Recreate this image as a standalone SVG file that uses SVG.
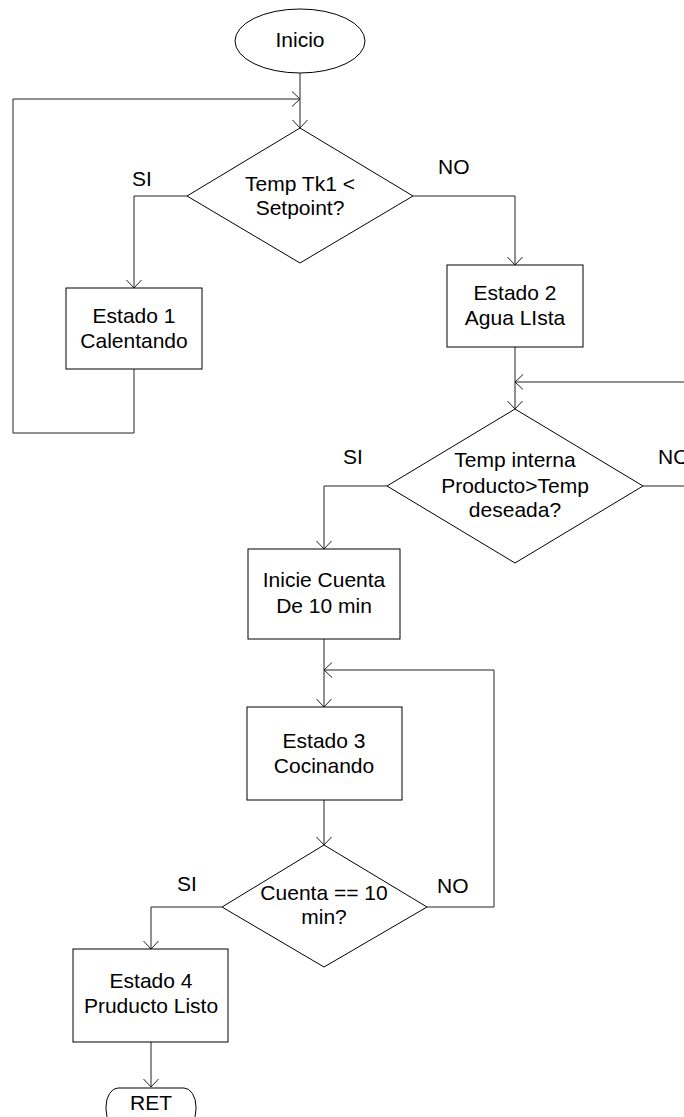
<svg xmlns="http://www.w3.org/2000/svg" width="684" height="1117" viewBox="0 0 684 1117">
<style>
.shape{fill:#fff;stroke:#000;stroke-width:1}
.conn{fill:none;stroke:#222;stroke-width:1}
text{font-family:"Liberation Sans",Arial,sans-serif;font-size:21px;fill:#000}
.c{text-anchor:middle}
</style>
<defs>
<marker id="arr" markerUnits="userSpaceOnUse" viewBox="0 0 9 16" refX="8.5" refY="8" markerWidth="9" markerHeight="16" orient="auto">
<path d="M0.5,0.5 L8.5,8 L0.5,15.5" fill="none" stroke="#222" stroke-width="1"/>
</marker>
</defs>
<g id="connectors">
<path class="conn" d="M300,73 V128" marker-end="url(#arr)"/>
<path class="conn" d="M134,369 V433 H13 V99 H300" marker-end="url(#arr)"/>
<path class="conn" d="M187,196 H134 V288" marker-end="url(#arr)"/>
<path class="conn" d="M413,196 H515 V265" marker-end="url(#arr)"/>
<path class="conn" d="M515,347 V409" marker-end="url(#arr)"/>
<path class="conn" d="M643,486 H700 V382 H515" marker-end="url(#arr)"/>
<path class="conn" d="M387,486 H324 V549" marker-end="url(#arr)"/>
<path class="conn" d="M324,639 V707" marker-end="url(#arr)"/>
<path class="conn" d="M427,907 H494 V670 H324" marker-end="url(#arr)"/>
<path class="conn" d="M324,800 V845" marker-end="url(#arr)"/>
<path class="conn" d="M222,907 H151 V949" marker-end="url(#arr)"/>
<path class="conn" d="M151,1042 V1087" marker-end="url(#arr)"/>
<text x="132" y="186">SI</text>
<text x="438" y="174">NO</text>
<text x="343" y="464">SI</text>
<text x="658" y="464">NO</text>
<text x="177" y="891">SI</text>
<text x="437" y="893">NO</text>
</g>
<g id="inicio">
<ellipse class="shape" cx="300" cy="41" rx="65" ry="32"/>
<text class="c" x="300" y="47">Inicio</text>
</g>
<g id="decision1">
<polygon class="shape" points="300,128 413,196 300,263 187,196"/>
<text class="c" x="300" y="191">Temp Tk1 &lt;</text>
<text class="c" x="300" y="215">Setpoint?</text>
</g>
<g id="estado1">
<rect class="shape" x="66" y="288" width="136" height="81"/>
<text class="c" x="134" y="323">Estado 1</text>
<text class="c" x="134" y="348">Calentando</text>
</g>
<g id="estado2">
<rect class="shape" x="447" y="265" width="136" height="82"/>
<text class="c" x="515" y="300">Estado 2</text>
<text class="c" x="515" y="325">Agua LIsta</text>
</g>
<g id="decision2">
<polygon class="shape" points="515,409 643,486 515,563 387,486"/>
<text class="c" x="515" y="467">Temp interna</text>
<text class="c" x="515" y="493">Producto&gt;Temp</text>
<text class="c" x="515" y="517">deseada?</text>
</g>
<g id="cuenta">
<rect class="shape" x="248" y="549" width="152" height="90"/>
<text class="c" x="324" y="587">Inicie Cuenta</text>
<text class="c" x="324" y="613">De 10 min</text>
</g>
<g id="estado3">
<rect class="shape" x="247" y="707" width="155" height="93"/>
<text class="c" x="324" y="748">Estado 3</text>
<text class="c" x="324" y="773">Cocinando</text>
</g>
<g id="decision3">
<polygon class="shape" points="324,845 427,907 324,967 222,907"/>
<text class="c" x="324" y="900">Cuenta == 10</text>
<text class="c" x="324" y="924">min?</text>
</g>
<g id="estado4">
<rect class="shape" x="73" y="949" width="155" height="93"/>
<text class="c" x="151" y="988">Estado 4</text>
<text class="c" x="151" y="1013">Pruducto Listo</text>
</g>
<g id="ret">
<rect class="shape" x="106" y="1088" width="90" height="40" rx="12" ry="19"/>
<text class="c" x="151" y="1110">RET</text>
</g>
</svg>
